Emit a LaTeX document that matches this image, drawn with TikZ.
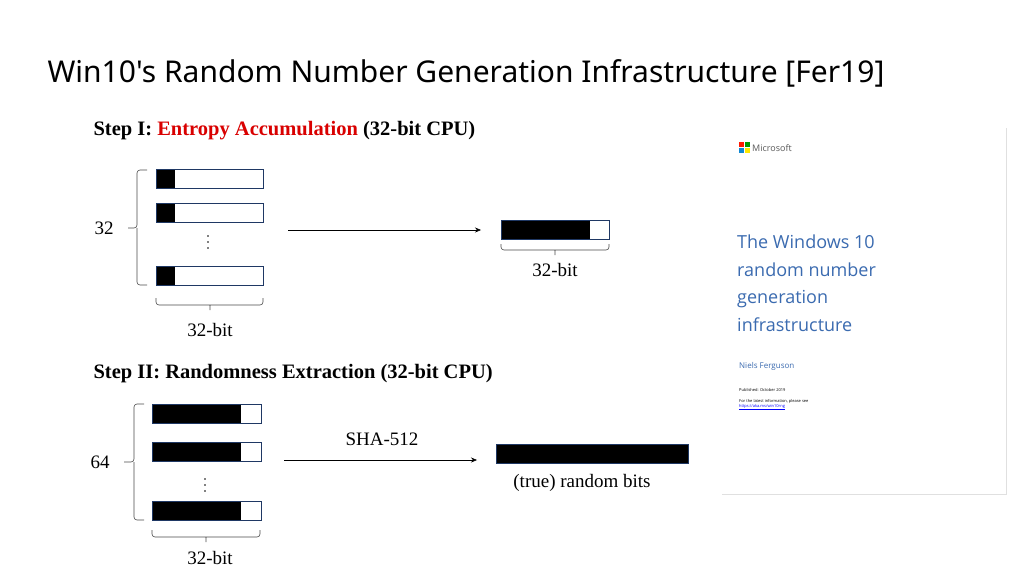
\documentclass[tikz,border=0pt]{standalone}
\usepackage{fontspec}
\setmainfont{Liberation Serif}
\newfontfamily\titlefont{Noto Sans}
\newfontfamily\msfont{Open Sans}
\usetikzlibrary{arrows.meta}
\definecolor{bx}{HTML}{1F3864}
\definecolor{msblue}{HTML}{3B6BB0}
\tikzset{
 reg/.style={draw=bx,line width=0.8pt},
 lbl/.style={font=\fontsize{19}{21}\selectfont},
 hdr/.style={font=\bfseries\fontsize{20.5}{23}\selectfont,anchor=west},
 brc/.style={draw=black!70,line width=0.6pt,rounded corners=3pt},
 arr/.style={-{Stealth[length=6pt,width=5pt]},line width=0.6pt},
 dt/.style={fill=black,circle,inner sep=0,minimum size=1.8pt}
}
\begin{document}
\begin{tikzpicture}[x=1pt,y=-1pt]
\useasboundingbox (0,0) rectangle (1024,576);
\fill[white] (0,0) rectangle (1024,576);
\node[anchor=west,font=\titlefont\fontsize{30}{34}\selectfont] (title) at (44,73) {Win10's Random Number Generation Infrastructure [Fer19]};
% Step I
\node[hdr] (h1) at (90,131) {Step I: \textcolor{red!85!black}{Entropy Accumulation} (32-bit CPU)};
\foreach \y/\n in {169/a,203/b,266/c}{
 \fill (156,\y) rectangle (175,\y+19);
 \draw[reg] (156,\y) rectangle (263,\y+19) coordinate (r\n);
}
\foreach \y [count=\i] in {236,242,248} \node[dt] (da\i) at (208,\y) {};
\draw[brc] (147,170) -- (137,170) -- (137,228) -- (128,228) (137,228) -- (137,285) -- (147,285);
\node[lbl] (n32) at (104,228) {32};
\draw[brc] (156,298) -- (156,305) -- (263,305) -- (263,298) (210,305) -- (210,310);
\node[lbl] (b1) at (210,330) {32-bit};
\coordinate (a1s) at (288,230); \coordinate (a1e) at (481,230);
\draw[arr] (a1s) -- (a1e);
\fill (501,220) rectangle (590,239);
\draw[reg] (501,220) rectangle (609,239);
\draw[brc] (501,244) -- (501,250) -- (609,250) -- (609,244) (555,250) -- (555,255);
\node[lbl] (b2) at (555,270) {32-bit};
% Step II
\node[hdr] (h2) at (90,374) {Step II: Randomness Extraction (32-bit CPU)};
\foreach \y in {404,442,501}{
 \fill (152,\y) rectangle (241,\y+19);
 \draw[reg] (152,\y) rectangle (261,\y+19);
}
\foreach \y [count=\i] in {479,485,491} \node[dt] (db\i) at (205,\y) {};
\draw[brc] (144,404) -- (134,404) -- (134,462) -- (124,462) (134,462) -- (134,520) -- (144,520);
\node[lbl] (n64) at (100,462) {64};
\draw[brc] (152,530) -- (152,537) -- (260,537) -- (260,530) (206,537) -- (206,542);
\node[lbl] (b3) at (210,558) {32-bit};
\coordinate (a2s) at (284,460); \coordinate (a2e) at (477,460);
\draw[arr] (a2s) -- (a2e);
\node[lbl] (sha) at (382,439) {SHA-512};
\fill[draw=bx] (496,444) rectangle (688,463);
\node[lbl] (rb) at (582,483) {(true) random bits};
% Microsoft paper
\fill[white] (722,128) rectangle (1006,494);
\draw[black!12,line width=1pt] (1006,128) -- (1006,494) -- (722,494);
\fill[red!80!orange] (739,142) rectangle (744,147);
\fill[green!60!black] (745,142) rectangle (750,147);
\fill[cyan!70!blue] (739,148) rectangle (744,153);
\fill[yellow!90!orange] (745,148) rectangle (750,153);
\node[anchor=west,font=\msfont\fontsize{9}{10}\selectfont,text=black!65,inner sep=0] (ms) at (752,148) {Microsoft};
\node[anchor=north west,align=left,text=msblue,font=\msfont\fontsize{18}{27.5}\selectfont,inner sep=0] (pt) at (737,235) {The Windows 10\\random number\\generation\\infrastructure};
\node[anchor=west,text=msblue,font=\msfont\fontsize{8}{9}\selectfont,inner sep=0] (au) at (739,366) {Niels Ferguson};
\node[anchor=west,font=\msfont\fontsize{4}{5}\selectfont,inner sep=0] (pub) at (739,390) {Published: October 2019};
\node[anchor=north west,align=left,font=\msfont\fontsize{4}{5}\selectfont,inner sep=0] (lt) at (739,399) {For the latest information, please see\\\textcolor{blue}{\underline{https://aka.ms/win10rng}}};
\end{tikzpicture}
\end{document}
